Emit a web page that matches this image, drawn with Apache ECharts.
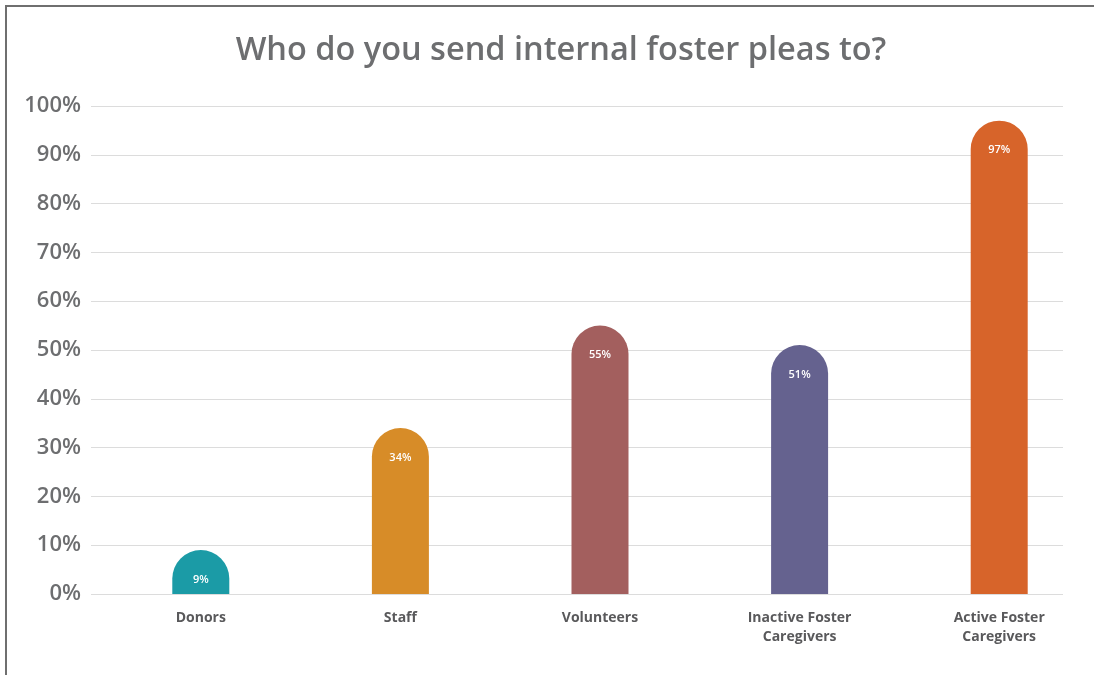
<!DOCTYPE html>
<html>
<head>
<meta charset="utf-8">
<script src="https://cdn.jsdelivr.net/npm/echarts@6/dist/echarts.min.js"></script>
<style>
  html, body { margin: 0; padding: 0; background: #fff; }
  #frame { position: absolute; left: 5px; top: 5px; width: 1089px; height: 670px;
           border-left: 2px solid #6f6f6f; border-top: 2px solid #6f6f6f; box-sizing: border-box; }
  #chart { position: absolute; left: 0; top: 0; width: 1094px; height: 675px; }
</style>
</head>
<body>
<div id="frame"></div>
<div id="chart"></div>
<script>
// Recipients of internal foster pleas (share of respondents, %)
const categories = ['Donors', 'Staff', 'Volunteers', 'Inactive Foster\nCaregivers', 'Active Foster\nCaregivers'];
const shares = [9, 34, 55, 51, 97];
const barColors = ['#1b9ba6', '#d78c28', '#a35f5e', '#65628f', '#d7642a'];
const yTicks = [0, 10, 20, 30, 40, 50, 60, 70, 80, 90, 100];

const chart = echarts.init(document.getElementById('chart'), null, { renderer: 'canvas' });

const axisGrey = '#6d6e70';
const fontFamily = '"Open Sans", "Noto Sans", sans-serif';

chart.setOption({
  animation: false,
  title: {
    text: 'Who do you send internal foster pleas to?',
    left: 556,
    textAlign: 'center',
    top: 29,
    textStyle: { color: axisGrey, fontSize: 32.5, fontWeight: 600, fontFamily: fontFamily }
  },
  grid: [
    // gridlines + percentage scale
    { left: 91, right: 31, top: 106, bottom: 81, outerBoundsMode: 'none' },
    // bar layout band
    { left: 101, width: 998, top: 106, bottom: 81, outerBoundsMode: 'none' }
  ],
  xAxis: [
    { type: 'category', gridIndex: 0, data: categories, show: false },
    {
      type: 'category', gridIndex: 1, data: categories,
      axisLine: { show: false }, axisTick: { show: false },
      axisLabel: {
        color: '#59595b', fontSize: 14, fontWeight: 'bold', fontFamily: fontFamily,
        margin: 15, lineHeight: 19, interval: 0
      }
    }
  ],
  yAxis: [
    {
      type: 'value', gridIndex: 0, min: yTicks[0], max: yTicks[yTicks.length - 1], interval: 10,
      axisLine: { show: false }, axisTick: { show: false },
      axisLabel: {
        color: axisGrey, fontSize: 22, fontWeight: 600, fontFamily: fontFamily, margin: 10,
        formatter: v => v + '%'
      },
      splitLine: { lineStyle: { color: '#dcdcdc', width: 1 } }
    },
    {
      type: 'value', gridIndex: 1, min: 0, max: 100, show: false
    }
  ],
  series: [
    {
      type: 'bar',
      xAxisIndex: 1, yAxisIndex: 1,
      barWidth: 57,
      data: shares.map((v, i) => ({
        value: v,
        itemStyle: { color: barColors[i], borderRadius: [28.5, 28.5, 0, 0] }
      })),
      label: {
        show: true, position: 'insideTop', distance: 24,
        color: '#ffffff', fontSize: 11, fontWeight: 600, fontFamily: fontFamily,
        formatter: p => p.value + '%'
      }
    }
  ]
});
</script>
</body>
</html>
